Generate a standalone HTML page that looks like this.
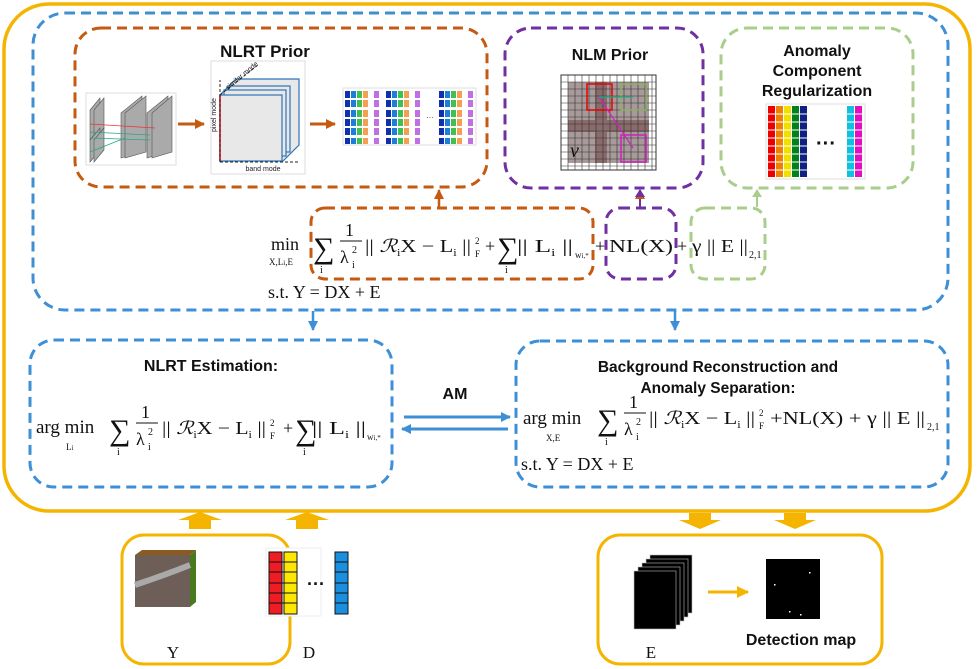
<!DOCTYPE html>
<html><head><meta charset="utf-8"><style>
html,body{margin:0;padding:0;background:#fff;}
svg{display:block;}
.t{font-family:"Liberation Sans",sans-serif;font-weight:bold;fill:#111;}
.m{font-family:"Liberation Serif",serif;fill:#111;}
</style></head><body>
<svg width="980" height="669" viewBox="0 0 980 669" xmlns="http://www.w3.org/2000/svg">
<defs>
<marker id="ab" markerUnits="userSpaceOnUse" markerWidth="10" markerHeight="10" refX="9" refY="5" orient="auto"><path d="M0,0 L10,5 L0,10z" fill="#3d8fd6"/></marker>
<marker id="ao" markerUnits="userSpaceOnUse" markerWidth="10" markerHeight="10" refX="9" refY="5" orient="auto"><path d="M0,0 L10,5 L0,10z" fill="#c55a11"/></marker>
<marker id="ay" markerUnits="userSpaceOnUse" markerWidth="12" markerHeight="12" refX="11" refY="6" orient="auto"><path d="M0,0 L12,6 L0,12z" fill="#f5b400"/></marker>
</defs>
<rect x="4" y="4" width="966" height="507" rx="45" fill="none" stroke="#f5b400" stroke-width="3.5"/>
<rect x="33" y="13" width="915" height="297" rx="32" fill="none" stroke="#3d8fd6" stroke-width="3" stroke-dasharray="10,6"/>
<rect x="75" y="28" width="412" height="159" rx="26" fill="none" stroke="#c55a11" stroke-width="3" stroke-dasharray="10,6"/>
<text x="265" y="57" class="t" font-size="17" text-anchor="middle">NLRT Prior</text>
<rect x="86" y="93" width="90" height="72" fill="#fff" stroke="#ddd"/>
<g fill="#aaa" stroke="#555" stroke-width="0.6">
<polygon points="90,110 100,98 100,128 90,140"/><polygon points="94,110 104,98 104,128 94,140"/>
<polygon points="90,140 100,128 100,150 90,162"/><polygon points="94,140 104,128 104,150 94,162"/>
<polygon points="121,113 142,96 142,152 121,158"/>
<polygon points="125,113 146,96 146,152 125,158"/>
<polygon points="147,113 168,96 168,152 147,158"/><polygon points="152,113 172,96 172,152 152,158"/>
</g>
<g stroke-width="0.8"><line x1="90" y1="124" x2="155" y2="128" stroke="#e33"/><line x1="90" y1="132" x2="150" y2="135" stroke="#2a8"/><line x1="90" y1="138" x2="150" y2="140" stroke="#2a8"/><line x1="90" y1="152" x2="125" y2="138" stroke="#2a8"/></g>
<line x1="178" y1="124" x2="204" y2="124" stroke="#c55a11" stroke-width="3" marker-end="url(#ao)"/>
<rect x="211" y="61" width="94" height="113" fill="#fff" stroke="#ddd"/>
<g stroke="#2e75b6" stroke-width="1.2" fill="#e8e8e8">
<polygon points="236,79 299,79 299,145 283,161 220,161 220,95"/>
<rect x="228" y="86" width="62" height="66"/><rect x="224" y="90" width="62" height="66"/><rect x="220" y="95" width="62" height="66"/>
</g>
<line x1="220" y1="95" x2="220" y2="161" stroke="#e00" stroke-width="1.5"/>
<line x1="220" y1="162" x2="300" y2="162" stroke="#222" stroke-dasharray="3,2"/>
<line x1="220" y1="162" x2="220" y2="80" stroke="#222" stroke-dasharray="3,2"/>
<line x1="220" y1="95" x2="258" y2="65" stroke="#222" stroke-dasharray="3,2"/>
<text x="263" y="171" font-family="Liberation Sans,sans-serif" font-size="7" fill="#222" text-anchor="middle">band mode</text>
<text x="216" y="132" font-family="Liberation Sans,sans-serif" font-size="7" fill="#222" transform="rotate(-90 216 132)">pixel mode</text>
<text x="228" y="90" font-family="Liberation Sans,sans-serif" font-size="7" fill="#222" transform="rotate(-40 228 90)">similar mode</text>
<line x1="310" y1="124" x2="335" y2="124" stroke="#c55a11" stroke-width="3" marker-end="url(#ao)"/>
<rect x="343" y="88" width="133" height="57" fill="#fff" stroke="#ddd"/>
<g id="grp">
<g fill="#1030b0"><rect x="345" y="91" width="5" height="7"/><rect x="345" y="100" width="5" height="7"/><rect x="345" y="110" width="5" height="7"/><rect x="345" y="119" width="5" height="7"/><rect x="345" y="128" width="5" height="7"/><rect x="345" y="138" width="5" height="6"/></g>
<g fill="#1e7fd8"><rect x="351" y="91" width="5" height="7"/><rect x="351" y="100" width="5" height="7"/><rect x="351" y="110" width="5" height="7"/><rect x="351" y="119" width="5" height="7"/><rect x="351" y="128" width="5" height="7"/><rect x="351" y="138" width="5" height="6"/></g>
<g fill="#40c050"><rect x="357" y="91" width="5" height="7"/><rect x="357" y="100" width="5" height="7"/><rect x="357" y="110" width="5" height="7"/><rect x="357" y="119" width="5" height="7"/><rect x="357" y="128" width="5" height="7"/><rect x="357" y="138" width="5" height="6"/></g>
<g fill="#f5a050"><rect x="363" y="91" width="5" height="7"/><rect x="363" y="100" width="5" height="7"/><rect x="363" y="110" width="5" height="7"/><rect x="363" y="119" width="5" height="7"/><rect x="363" y="128" width="5" height="7"/><rect x="363" y="138" width="5" height="6"/></g>
<g fill="#c070e0"><rect x="374" y="91" width="5" height="7"/><rect x="374" y="100" width="5" height="7"/><rect x="374" y="110" width="5" height="7"/><rect x="374" y="119" width="5" height="7"/><rect x="374" y="128" width="5" height="7"/><rect x="374" y="138" width="5" height="6"/></g>
</g>
<use href="#grp" x="41"/>
<use href="#grp" x="94"/>
<text x="426" y="120" font-size="8" font-family="Liberation Sans,sans-serif" fill="#333">···</text>
<line x1="439" y1="207" x2="439" y2="190" stroke="#c55a11" stroke-width="2.5" marker-end="url(#ao)"/>
<rect x="505" y="28" width="198" height="160" rx="26" fill="none" stroke="#7030a0" stroke-width="3" stroke-dasharray="10,6"/>
<text x="610" y="60" class="t" font-size="16" text-anchor="middle">NLM Prior</text>
<rect x="561" y="75" width="95" height="95" fill="#fff" stroke="#333"/>
<rect x="568" y="82" width="81" height="81" fill="#a89a9a"/>
<rect x="568" y="120" width="81" height="12" fill="#8a6b6b"/>
<rect x="595" y="82" width="12" height="81" fill="#8a6b6b"/>
<g stroke="#333" stroke-width="0.6">
<path d="M568,75V170M575,75V170M582,75V170M589,75V170M596,75V170M603,75V170M610,75V170M617,75V170M624,75V170M631,75V170M638,75V170M645,75V170M652,75V170"/>
<path d="M561,82H656M561,89H656M561,96H656M561,103H656M561,110H656M561,117H656M561,124H656M561,131H656M561,138H656M561,145H656M561,152H656M561,159H656M561,166H656"/>
</g>
<rect x="587" y="84" width="25" height="26" fill="none" stroke="#e00" stroke-width="1.5"/>
<rect x="621" y="84" width="25" height="26" fill="none" stroke="#8bb060" stroke-width="1.5"/>
<rect x="621" y="135" width="25" height="27" fill="none" stroke="#d020c0" stroke-width="1.5"/>
<line x1="599" y1="97" x2="633" y2="148" stroke="#d020c0" stroke-width="1.2"/>
<line x1="599" y1="97" x2="633" y2="97" stroke="#2a8" stroke-width="1.2"/>
<text x="570" y="157" font-family="Liberation Serif,serif" font-style="italic" font-size="20" fill="#111">v</text>
<line x1="640" y1="207" x2="640" y2="190" stroke="#7030a0" stroke-width="2" marker-end="url(#ao)" />
<path d="M635,197 L640,189 L645,197z" fill="#7030a0"/>
<rect x="721" y="28" width="192" height="160" rx="26" fill="none" stroke="#a9cd8b" stroke-width="3" stroke-dasharray="10,6"/>
<text x="817" y="56" class="t" font-size="16" text-anchor="middle">Anomaly</text>
<text x="817" y="76" class="t" font-size="16" text-anchor="middle">Component</text>
<text x="817" y="96" class="t" font-size="16" text-anchor="middle">Regularization</text>
<rect x="766" y="104" width="99" height="75" fill="#fff" stroke="#ddd"/>
<g><rect x="768" y="106" width="7" height="71" fill="#e00"/><rect x="776" y="106" width="7" height="71" fill="#f08000"/><rect x="784" y="106" width="7" height="71" fill="#f0e000"/><rect x="792" y="106" width="7" height="71" fill="#008020"/><rect x="800" y="106" width="7" height="71" fill="#102080"/><rect x="847" y="106" width="7" height="71" fill="#10c0e0"/><rect x="855" y="106" width="7" height="71" fill="#e010c0"/></g>
<g stroke="#fff" stroke-width="1"><path d="M768,114H862M768,122H862M768,130H862M768,138H862M768,146H862M768,154H862M768,162H862M768,170H862"/></g>
<text x="826" y="150" font-size="20" font-weight="bold" font-family="Liberation Sans,sans-serif" text-anchor="middle" fill="#111">···</text>
<line x1="757" y1="207" x2="757" y2="194" stroke="#a9cd8b" stroke-width="2"/>
<path d="M752,197 L757,189 L762,197z" fill="#a9cd8b"/>
<rect x="311" y="208" width="282" height="71" rx="14" fill="none" stroke="#c55a11" stroke-width="3" stroke-dasharray="10,6"/>
<rect x="606" y="208" width="70" height="71" rx="14" fill="none" stroke="#7030a0" stroke-width="3" stroke-dasharray="10,6"/>
<rect x="691" y="208" width="74" height="71" rx="14" fill="none" stroke="#a9cd8b" stroke-width="3" stroke-dasharray="10,6"/>
<g class="m">
<text x="271" y="250" font-size="18">min</text>
<text x="269" y="265" font-size="9">X,L<tspan font-size="7">i</tspan>,E</text>
<text x="313" y="258" font-size="30">∑</text><text x="320" y="273" font-size="10">i</text>
<text x="345" y="236" font-size="18">1</text><line x1="340" y1="241" x2="362" y2="241" stroke="#111"/>
<text x="340" y="263" font-size="18">λ</text><text x="352" y="253" font-size="10">2</text><text x="352" y="268" font-size="10">i</text>
<text x="365" y="252" font-size="18" textLength="106" lengthAdjust="spacingAndGlyphs">|| <tspan font-style="italic">ℛ</tspan><tspan font-size="10" dy="4">i</tspan><tspan dy="-4">X − L</tspan><tspan font-size="10" dy="4">i</tspan><tspan dy="-4"> ||</tspan></text>
<text x="475" y="244" font-size="9">2</text><text x="475" y="257" font-size="9">F</text>
<text x="485" y="252" font-size="18">+</text>
<text x="497" y="258" font-size="30">∑</text><text x="505" y="273" font-size="10">i</text>
<text x="517" y="252" font-size="18" textLength="56" lengthAdjust="spacingAndGlyphs">|| L<tspan font-size="10" dy="4">i</tspan><tspan dy="-4"> ||</tspan></text>
<text x="575" y="258" font-size="9">w<tspan font-size="7">i,*</tspan></text>
<text x="595" y="252" font-size="18">+</text>
<text x="609" y="252" font-size="18" textLength="64" lengthAdjust="spacingAndGlyphs">NL(X)</text>
<text x="677" y="252" font-size="18">+</text>
<text x="692" y="252" font-size="18" textLength="56" lengthAdjust="spacingAndGlyphs">γ || E ||</text><text x="749" y="258" font-size="10">2,1</text>
<text x="268" y="298" font-size="18">s.t. Y = DX + E</text>
</g>
<line x1="313" y1="311" x2="313" y2="330" stroke="#3d8fd6" stroke-width="2.5" marker-end="url(#ab)"/>
<line x1="675" y1="311" x2="675" y2="330" stroke="#3d8fd6" stroke-width="2.5" marker-end="url(#ab)"/>
<rect x="30" y="340" width="362" height="147" rx="24" fill="none" stroke="#3d8fd6" stroke-width="3" stroke-dasharray="10,6"/>
<text x="211" y="371" class="t" font-size="16" text-anchor="middle">NLRT Estimation:</text>
<g class="m">
<text x="36" y="433" font-size="19">arg min</text><text x="66" y="450" font-size="9">L<tspan font-size="7">i</tspan></text>
<text x="109" y="440" font-size="30">∑</text><text x="117" y="455" font-size="10">i</text>
<text x="141" y="418" font-size="18">1</text><line x1="136" y1="423" x2="158" y2="423" stroke="#111"/>
<text x="136" y="445" font-size="18">λ</text><text x="148" y="435" font-size="10">2</text><text x="148" y="450" font-size="10">i</text>
<text x="162" y="434" font-size="18" textLength="104" lengthAdjust="spacingAndGlyphs">|| <tspan font-style="italic">ℛ</tspan><tspan font-size="10" dy="4">i</tspan><tspan dy="-4">X − L</tspan><tspan font-size="10" dy="4">i</tspan><tspan dy="-4"> ||</tspan></text>
<text x="270" y="426" font-size="9">2</text><text x="270" y="439" font-size="9">F</text>
<text x="283" y="434" font-size="18">+</text>
<text x="295" y="440" font-size="30">∑</text><text x="303" y="455" font-size="10">i</text>
<text x="312" y="434" font-size="18" textLength="54" lengthAdjust="spacingAndGlyphs">|| L<tspan font-size="10" dy="4">i</tspan><tspan dy="-4"> ||</tspan></text>
<text x="367" y="440" font-size="9">w<tspan font-size="7">i,*</tspan></text>
</g>
<text x="455" y="399" class="t" font-size="16" text-anchor="middle">AM</text>
<line x1="404" y1="417" x2="510" y2="417" stroke="#3d8fd6" stroke-width="3" marker-end="url(#ab)"/>
<line x1="508" y1="429" x2="402" y2="429" stroke="#3d8fd6" stroke-width="3" marker-end="url(#ab)"/>
<rect x="516" y="341" width="432" height="146" rx="24" fill="none" stroke="#3d8fd6" stroke-width="3" stroke-dasharray="10,6"/>
<text x="718" y="372" class="t" font-size="15.5" text-anchor="middle">Background Reconstruction and</text>
<text x="718" y="393" class="t" font-size="15.5" text-anchor="middle">Anomaly Separation:</text>
<g class="m">
<text x="523" y="424" font-size="19">arg min</text><text x="546" y="441" font-size="9">X,E</text>
<text x="597" y="430" font-size="30">∑</text><text x="605" y="445" font-size="10">i</text>
<text x="629" y="408" font-size="18">1</text><line x1="624" y1="413" x2="646" y2="413" stroke="#111"/>
<text x="624" y="435" font-size="18">λ</text><text x="636" y="425" font-size="10">2</text><text x="636" y="440" font-size="10">i</text>
<text x="649" y="424" font-size="18" textLength="106" lengthAdjust="spacingAndGlyphs">|| <tspan font-style="italic">ℛ</tspan><tspan font-size="10" dy="4">i</tspan><tspan dy="-4">X − L</tspan><tspan font-size="10" dy="4">i</tspan><tspan dy="-4"> ||</tspan></text>
<text x="759" y="416" font-size="9">2</text><text x="759" y="429" font-size="9">F</text>
<text x="770" y="424" font-size="18" textLength="155" lengthAdjust="spacingAndGlyphs">+NL(X) + γ || E ||</text><text x="927" y="430" font-size="10">2,1</text>
<text x="521" y="470" font-size="18">s.t. Y = DX + E</text>
</g>
<g fill="#f5b400">
<path d="M189,529 L189,520 L178,520 L200,512 L222,520 L211,520 L211,529z"/>
<path d="M296,529 L296,520 L285,520 L307,512 L329,520 L318,520 L318,529z"/>
<path d="M689,513 L711,513 L711,520 L721,520 L700,529 L679,520 L689,520z"/>
<path d="M784,513 L806,513 L806,520 L816,520 L795,529 L774,520 L784,520z"/>
</g>
<rect x="122" y="535" width="168" height="129" rx="22" fill="none" stroke="#f5b400" stroke-width="3"/>
<rect x="135" y="555" width="55" height="52" fill="#6e5e58"/>
<polygon points="135,555 142,550 196,550 190,555" fill="#8a5a20"/>
<polygon points="190,555 196,550 196,602 190,607" fill="#4a7a20"/>
<path d="M135,585 Q165,575 190,565" stroke="#aaa" stroke-width="6" fill="none"/>
<text x="173" y="658" class="m" font-size="17" text-anchor="middle">Y</text>
<rect x="266" y="548" width="55" height="68" fill="#fff" stroke="#eee"/>
<g stroke="#111" stroke-width="1">
<rect x="269" y="552" width="13" height="62" fill="#ee1c24"/><rect x="284" y="552" width="13" height="62" fill="#ffe800"/>
<rect x="335" y="552" width="13" height="62" fill="#1a8fe0"/>
<path d="M269,562H297M269,572H297M269,583H297M269,593H297M269,603H297M335,562H348M335,572H348M335,583H348M335,593H348M335,603H348"/>
</g>
<text x="316" y="590" font-size="18" font-weight="bold" font-family="Liberation Sans,sans-serif" text-anchor="middle" fill="#111">···</text>
<text x="309" y="658" class="m" font-size="17" text-anchor="middle">D</text>
<rect x="598" y="535" width="284" height="129" rx="22" fill="none" stroke="#f5b400" stroke-width="3"/>
<g fill="#000" stroke="#bbb" stroke-width="0.6">
<rect x="650" y="555" width="42" height="58"/><rect x="646" y="559" width="42" height="58"/><rect x="642" y="563" width="42" height="58"/><rect x="638" y="567" width="42" height="58"/><rect x="634" y="571" width="42" height="58"/>
</g>
<text x="651" y="658" class="m" font-size="17" text-anchor="middle">E</text>
<line x1="708" y1="592" x2="748" y2="592" stroke="#f5b400" stroke-width="3" marker-end="url(#ay)"/>
<rect x="766" y="559" width="54" height="60" fill="#000"/>
<g fill="#fff"><rect x="809" y="572" width="1.5" height="1.5"/><rect x="774" y="584" width="1.5" height="1.5"/><rect x="789" y="611" width="1.5" height="1.5"/><rect x="800" y="614" width="1.5" height="1.5"/></g>
<text x="801" y="645" class="t" font-size="16" text-anchor="middle">Detection map</text>
</svg>
</body></html>
